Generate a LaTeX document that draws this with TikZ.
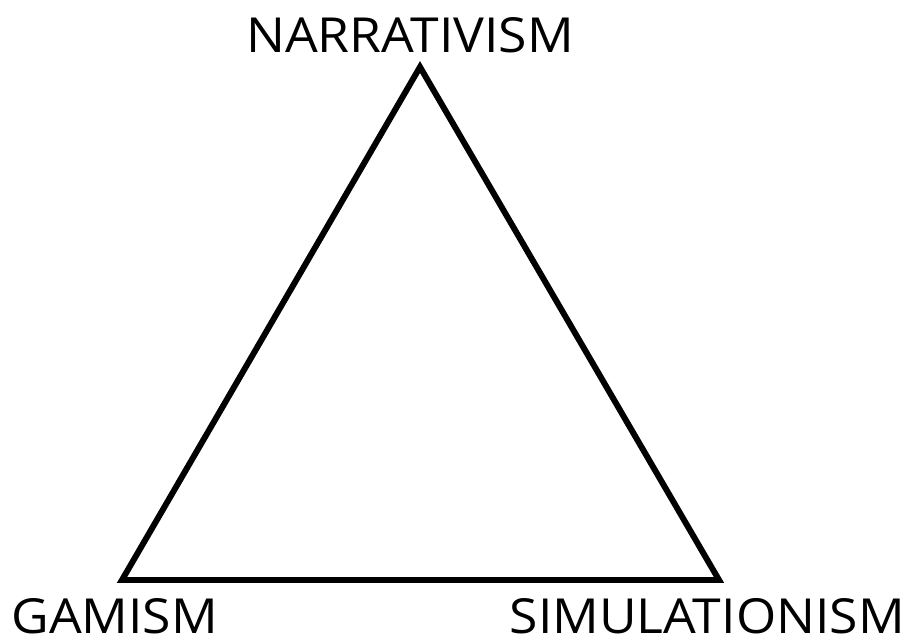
\documentclass[tikz,border=0pt]{standalone}
\usepackage{fontspec}
\setmainfont{Open Sans}
\usetikzlibrary{positioning}
\tikzset{
  corner/.style={inner sep=0pt, xscale=1.07, font=\fontsize{27.5}{30}\selectfont},
  side/.style={line width=3.4pt, draw=black, line join=miter}
}

\begin{document}
\begin{tikzpicture}[x=0.02cm, y=-0.02cm]
  \useasboundingbox (0,0) rectangle (906,636);
  \coordinate (top) at (420,67);
  \coordinate (left) at (122,580);
  \coordinate (right) at (719,580);

  \node[corner, anchor=base] (narr) at (410,52) {NARRATIVISM};
  \node[corner, anchor=base west] (gam) at (11,633) {GAMISM};
  \node[corner, anchor=base east] (sim) at (905,633) {SIMULATIONISM};

  \draw[side] (top) -- (left) -- (right) -- cycle;
\end{tikzpicture}
\end{document}
